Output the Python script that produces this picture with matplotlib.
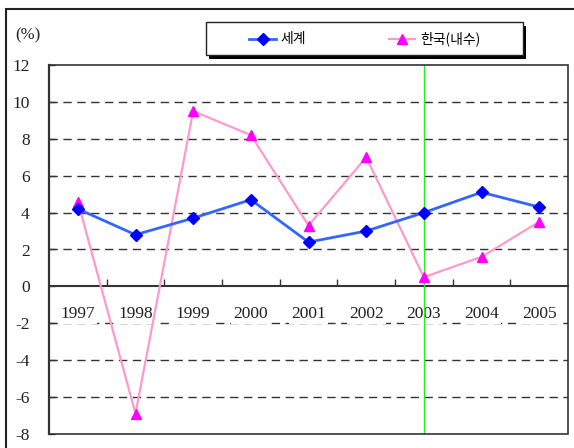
import matplotlib.pyplot as plt
from matplotlib.patches import Rectangle
from matplotlib.lines import Line2D

# 연도별 성장률 (%)
years = ["1997", "1998", "1999", "2000", "2001", "2002", "2003", "2004", "2005"]
world = [4.2, 2.8, 3.7, 4.7, 2.4, 3.0, 4.0, 5.1, 4.3]
korea = [4.6, -6.9, 9.5, 8.2, 3.3, 7.0, 0.5, 1.6, 3.5]
yticks = list(range(-8, 13, 2))
marked_year = "2003"
names = ["세계", "한국(내수)"]

W, H = 574, 448
serif = "Liberation Serif"
kor = ["Noto Sans CJK KR", "DejaVu Sans"]

fig = plt.figure(figsize=(W / 100, H / 100), dpi=100)
ax = fig.add_axes([49 / W, 1 - 434 / H, (568 - 49) / W, (434 - 65) / H])

xs = list(range(len(years)))
ax.set_xlim(-0.5, len(years) - 0.5)
ax.set_ylim(yticks[0], yticks[-1])

# 점선 격자
for v in yticks[1:-1]:
    if v != 0:
        ax.axhline(v, color="#333333", lw=1, ls=(0, (6, 4)), zorder=1)

# x축은 0에 위치
ax.spines["bottom"].set_position(("data", 0))
ax.spines["bottom"].set_color("#333333")
ax.spines["bottom"].set_linewidth(1.5)
ax.spines["left"].set_color("#333333")
ax.spines["left"].set_linewidth(1.6)
ax.spines["top"].set_visible(False)
ax.spines["right"].set_visible(False)
ax.add_patch(Rectangle((0, 0), 1, 1, transform=ax.transAxes, fill=False,
                       ec="#333333", lw=1.2, clip_on=False, zorder=6))

ax.set_xticks([i + 0.5 for i in xs[:-1]])
ax.set_xticklabels([])
ax.tick_params(axis="x", direction="in", length=5, width=1, color="#333333")
ax.set_yticks(yticks)
ax.set_yticklabels([str(v) for v in yticks], fontfamily=serif, fontsize=12.5, color="#222222")
ax.tick_params(axis="y", direction="in", length=4, width=1, pad=14, color="#333333")

for i, yr in zip(xs, years):
    ax.text(i, -1.5, yr, ha="center", va="center", fontfamily=serif, fontsize=12.5,
            color="#222222", zorder=2,
            bbox=dict(facecolor="white", edgecolor="none", pad=1.5))

ax.axvline(years.index(marked_year), color="#22ee22", lw=1, zorder=3)

ax.plot(xs, world, color="#3366ff", lw=2, marker="D", markersize=6,
        markerfacecolor="#0000ff", markeredgecolor="#0000ff", zorder=5)
ax.plot(xs, korea, color="#ff99cc", lw=1.6, marker="^", markersize=7.5,
        markerfacecolor="#ff00ff", markeredgecolor="#ff00ff", zorder=4)

# (%) 표시
fig.text(15 / W, 1 - 35 / H, "(%)", fontfamily=serif, fontsize=12, color="#222222",
         ha="left", va="center")

# 범례 상자 (그림자 포함)
fig.add_artist(Rectangle((209 / W, 1 - 59 / H), 317 / W, 33 / H, transform=fig.transFigure,
                         fc="black", ec="none"))
fig.add_artist(Rectangle((206 / W, 1 - 55 / H), 317 / W, 33 / H, transform=fig.transFigure,
                         fc="white", ec="#222222", lw=1))
ly = 1 - 39 / H
fig.add_artist(Line2D([249 / W, 276 / W], [ly, ly], color="#3366ff", lw=2))
fig.add_artist(Line2D([262.5 / W], [ly], marker="D", markersize=6, color="#0000ff"))
fig.add_artist(Line2D([389 / W, 415 / W], [ly, ly], color="#ff99cc", lw=1.6))
fig.add_artist(Line2D([402 / W], [ly], marker="^", markersize=7.5, color="#ff00ff"))
fig.text(280 / W, ly, names[0], family=kor, fontsize=10, ha="left", va="center")
fig.text(420 / W, ly, names[1], family=kor, fontsize=10, ha="left", va="center")

# 바깥 테두리
fig.add_artist(Rectangle((6 / W, -0.1), 1.2, 1.1 - 9 / H, transform=fig.transFigure,
                         fill=False, ec="#222222", lw=1.5))

fig.savefig("out.png", dpi=100)
